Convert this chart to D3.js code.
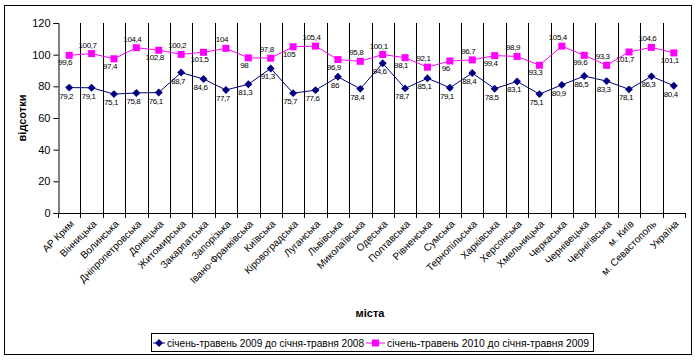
<!DOCTYPE html>
<html>
<head>
<meta charset="utf-8">
<script src="https://cdn.jsdelivr.net/npm/d3@7/dist/d3.min.js"></script>
<style>
  body { margin: 0; background: #fff; }
  svg { display: block; font-family: Arial, "Liberation Sans", sans-serif; }
</style>
</head>
<body>
<svg id="chart" width="697" height="360"></svg>
<script>
const cities = ["АР Крим","Вінницька","Волинська","Дніпропетровська","Донецька","Житомирська","Закарпатська","Запорізька","Івано-Франківська","Київська","Кіровоградська","Луганська","Львівська","Миколаївська","Одеська","Полтавська","Рівненська","Сумська","Тернопільська","Харківська","Херсонська","Хмельницька","Черкаська","Чернівецька","Чернігівська","м. Київ","м. Севастополь","Україна"];
const series2009 = [79.2,79.1,75.1,75.8,76.1,88.7,84.6,77.7,81.3,91.3,75.7,77.6,86,78.4,94.6,78.7,85.1,79.1,88.4,78.5,83.1,75.1,80.9,86.5,83.3,78.1,86.3,80.4];
const series2010 = [99.6,100.7,97.4,104.4,102.8,100.2,101.5,104,98,97.8,105,105.4,96.9,95.8,100.1,98.1,92.1,96,96.7,99.4,98.9,93.3,105.4,99.6,93.3,101.7,104.6,101.1];
const yTicks = [0,20,40,60,80,100,120];
const seriesNames = ["січень-травень 2009 до січня-травня 2008","січень-травень 2010 до січня-травня 2009"];
// label side for the 2010 series: 1 = above, 0 = below
const side2010 = [0,1,0,1,0,1,0,1,0,1,0,1,0,1,1,0,1,0,1,0,1,0,1,0,1,0,1,0];

const fmt = v => String(v).replace(".", ",");
const svg = d3.select("#chart");

// outer border
svg.append("rect").attr("x",4.5).attr("y",5.5).attr("width",687).attr("height",349)
  .attr("fill","#fff").attr("stroke","#000").attr("stroke-width",1);

const x = d3.scaleBand().domain(cities).range([58, 685]).padding(0);
const y = d3.scaleLinear().domain([0,120]).range([213, 23]);
const cx = d => x(d) + x.bandwidth()/2;

// vertical gridlines at category boundaries
svg.append("g").selectAll("line").data(cities.slice(1)).join("line")
  .attr("x1", d => Math.round(x(d))+0.5).attr("x2", d => Math.round(x(d))+0.5)
  .attr("y1", y(120)).attr("y2", y(0)).attr("stroke","#000");

// y axis
const yAxis = svg.append("g").attr("transform","translate(58.5,0)")
  .call(d3.axisLeft(y).tickValues(yTicks).tickSize(5).tickPadding(3).tickFormat(d3.format("d")));
yAxis.select(".domain").attr("stroke","#000");
yAxis.selectAll("text").attr("font-size","11px").attr("fill","#000").attr("font-family","Arial, 'Liberation Sans', sans-serif");

// x axis line + ticks
const xg = svg.append("g");
xg.append("line").attr("x1",58).attr("x2",685).attr("y1",y(0)+0.5).attr("y2",y(0)+0.5).attr("stroke","#000");
xg.selectAll("line.tk").data(cities.concat(["__end"])).join("line").attr("class","tk")
  .attr("x1", (d,i) => Math.round(i < cities.length ? x(d) : 685)+0.5)
  .attr("x2", (d,i) => Math.round(i < cities.length ? x(d) : 685)+0.5)
  .attr("y1", y(0)).attr("y2", y(0)+5).attr("stroke","#000");
xg.selectAll("text").data(cities).join("text")
  .attr("transform", d => `translate(${cx(d)+3},${y(0)+9}) rotate(-45)`)
  .attr("text-anchor","end").attr("dy","0.35em")
  .attr("font-size","10px").attr("fill","#000").text(d => d);

// axis titles
svg.append("text").attr("transform","translate(26,118) rotate(-90)").attr("text-anchor","middle")
  .attr("font-size","11px").attr("font-weight","bold").text("відсотки");
svg.append("text").attr("x",370).attr("y",317).attr("text-anchor","middle")
  .attr("font-size","11px").attr("font-weight","bold").text("міста");

const line = d3.line().x((d,i) => cx(cities[i])).y(d => y(d));
const c1 = "#000080", c2 = "#FF00FF";

svg.append("path").datum(series2009).attr("d", line).attr("fill","none").attr("stroke",c1).attr("stroke-width",1);
svg.append("path").datum(series2010).attr("d", line).attr("fill","none").attr("stroke",c2).attr("stroke-width",1);

const diamond = d3.symbol().type(d3.symbolDiamond2).size(40);
svg.append("g").selectAll("path").data(series2009).join("path")
  .attr("d", diamond).attr("transform",(d,i)=>`translate(${cx(cities[i])},${y(d)})`).attr("fill",c1);
svg.append("g").selectAll("rect").data(series2010).join("rect")
  .attr("x",(d,i)=>cx(cities[i])-3.5).attr("y",d=>y(d)-3.5).attr("width",7).attr("height",7).attr("fill",c2);

// data labels
const lblFont = "8px";
svg.append("g").selectAll("text").data(series2009).join("text")
  .attr("x",(d,i)=>cx(cities[i])-3).attr("y",d=>y(d)+11)
  .attr("text-anchor","middle").attr("font-size",lblFont).attr("letter-spacing","-0.4px").attr("fill","#000").text(fmt);
svg.append("g").selectAll("text").data(series2010).join("text")
  .attr("x",(d,i)=>cx(cities[i])-4)
  .attr("y",(d,i)=> side2010[i] ? y(d)-6 : y(d)+10)
  .attr("text-anchor","middle").attr("font-size",lblFont).attr("letter-spacing","-0.4px").attr("fill","#000").text(fmt);

// legend
const lg = svg.append("g");
lg.append("rect").attr("x",151.5).attr("y",333.5).attr("width",442).attr("height",18).attr("fill","#fff").attr("stroke","#000");
const legItems = [{name:seriesNames[0], c:c1, x0:153, len:12, t:"d", w:197},{name:seriesNames[1], c:c2, x0:366, len:19, t:"s", w:202}];
legItems.forEach(it => {
  lg.append("line").attr("x1",it.x0).attr("x2",it.x0+it.len).attr("y1",343).attr("y2",343).attr("stroke",it.c);
  if (it.t === "d") lg.append("path").attr("d",diamond).attr("transform",`translate(${it.x0+it.len/2},343)`).attr("fill",it.c);
  else lg.append("rect").attr("x",it.x0+it.len/2-3.5).attr("y",339.5).attr("width",7).attr("height",7).attr("fill",it.c);
  lg.append("text").attr("x",it.x0+it.len+2).attr("y",346.5).attr("font-size","10.5px").attr("fill","#000")
    .attr("textLength",it.w).attr("lengthAdjust","spacingAndGlyphs").text(it.name);
});
</script>
</body>
</html>
